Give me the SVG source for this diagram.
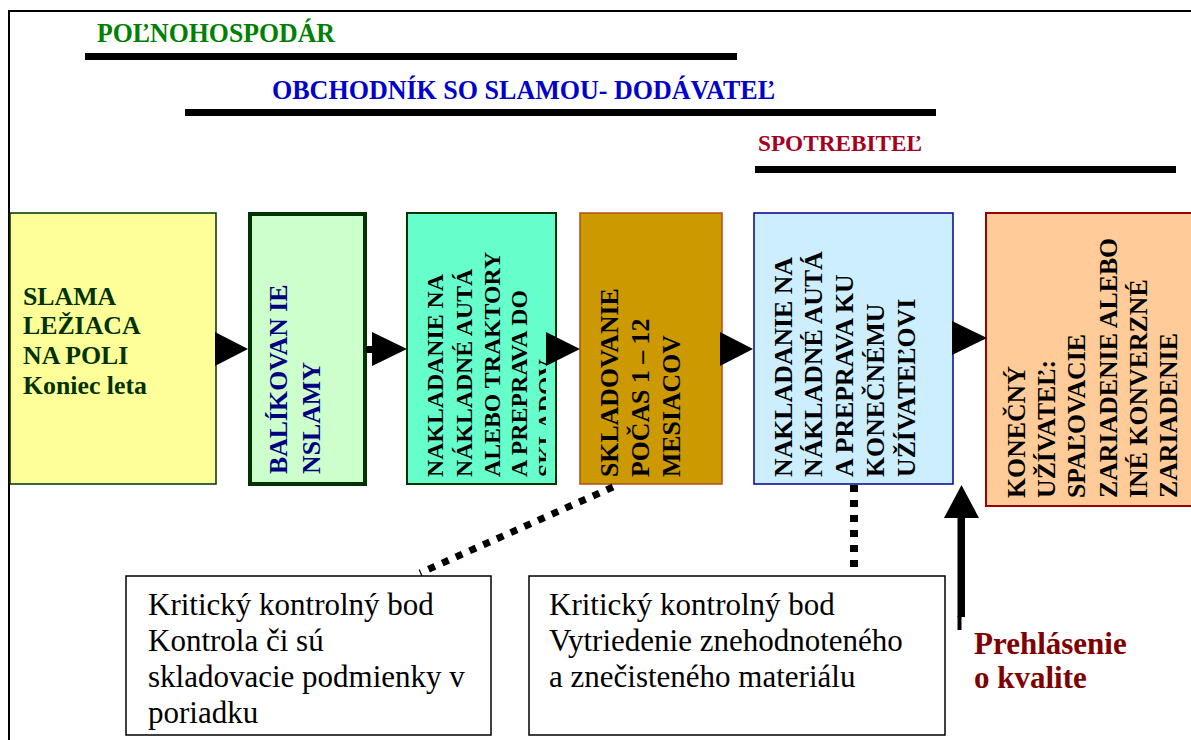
<svg xmlns="http://www.w3.org/2000/svg" width="1191" height="740" viewBox="0 0 1191 740">
  <style>
    text { font-family: "Liberation Serif", "Times New Roman", serif; }
    .hdr { font-weight: bold; }
    .lbl { font-weight: bold; font-size: 25.8px; fill: #000000; }
    .note { font-size: 31px; fill: #000000; }
    .bar { fill: #000000; }
    .frame { fill: none; stroke: #000000; stroke-width: 2; }
    .tri { fill: #000000; }
    .dots { fill: none; stroke: #000000; stroke-width: 7; stroke-dasharray: 7 8; }
  </style>
  <defs>
    <clipPath id="clipTransport">
      <rect x="407" y="213" width="139" height="271"/>
    </clipPath>
  </defs>

  <rect width="1191" height="740" fill="#ffffff"/>

  <!-- page frame: top rule and left rule -->
  <polyline class="frame" points="1191,11 9,11 9,740"/>

  <!-- role bands -->
  <g id="role-farmer">
    <text class="hdr" x="97" y="42" font-size="26.5" fill="#008000" textLength="238" lengthAdjust="spacingAndGlyphs">POĽNOHOSPODÁR</text>
    <rect class="bar" x="85" y="53" width="652" height="7"/>
  </g>
  <g id="role-trader">
    <text class="hdr" x="272" y="99" font-size="26.5" fill="#0000cc" textLength="503" lengthAdjust="spacingAndGlyphs">OBCHODNÍK SO SLAMOU- DODÁVATEĽ</text>
    <rect class="bar" x="185" y="109" width="751" height="7"/>
  </g>
  <g id="role-consumer">
    <text class="hdr" x="758" y="151" font-size="23" fill="#a50021" textLength="164" lengthAdjust="spacingAndGlyphs">SPOTREBITEĽ</text>
    <rect class="bar" x="755" y="166" width="421" height="7"/>
  </g>

  <!-- process steps -->
  <g id="step-field">
    <rect x="10" y="213" width="206" height="271" fill="#ffff99" stroke="#003300" stroke-width="1.5"/>
    <text class="lbl" style="fill:#003300">
      <tspan x="23" y="305">SLAMA</tspan>
      <tspan x="23" y="334">LEŽIACA</tspan>
      <tspan x="23" y="364">NA POLI</tspan>
      <tspan x="23" y="394">Koniec leta</tspan>
    </text>
  </g>

  <g id="step-baling">
    <rect x="250" y="214" width="115" height="270" fill="#ccffcc" stroke="#003300" stroke-width="4"/>
    <text class="lbl" style="fill:#000080" transform="translate(287 474) rotate(-90)">
      <tspan x="0" y="0">BALÍKOVAN IE</tspan>
      <tspan x="0" y="33">NSLAMY</tspan>
    </text>
  </g>

  <g id="step-transport">
    <rect x="407" y="213" width="149" height="271" fill="#66ffcc" stroke="#003300" stroke-width="2"/>
    <g clip-path="url(#clipTransport)">
      <text class="lbl" style="font-size:23.8px" transform="translate(443 477) rotate(-90)">
        <tspan x="0" y="0">NAKLADANIE NA</tspan>
        <tspan x="0" y="28.5">NÁKLADNÉ AUTÁ</tspan>
        <tspan x="0" y="56.5">ALEBO TRAKTORY</tspan>
        <tspan x="0" y="84">A PREPRAVA DO</tspan>
        <tspan x="0" y="110.5">SKLADOV</tspan>
      </text>
    </g>
  </g>

  <g id="step-storage">
    <rect x="580" y="213" width="142" height="271" fill="#cc9900" stroke="#b34d1a" stroke-width="1.5"/>
    <text class="lbl" transform="translate(618 477) rotate(-90)">
      <tspan x="0" y="0">SKLADOVANIE</tspan>
      <tspan x="0" y="31">POČAS 1 – 12</tspan>
      <tspan x="0" y="62">MESIACOV</tspan>
    </text>
  </g>

  <g id="step-delivery">
    <rect x="754" y="213" width="199" height="271" fill="#cceeff" stroke="#000099" stroke-width="1.5"/>
    <text class="lbl" transform="translate(792 477) rotate(-90)">
      <tspan x="0" y="0">NAKLADANIE NA</tspan>
      <tspan x="0" y="30">NÁKLADNÉ AUTÁ</tspan>
      <tspan x="0" y="61">A PREPRAVA KU</tspan>
      <tspan x="0" y="92">KONEČNÉMU</tspan>
      <tspan x="0" y="123">UŽÍVATEĽOVI</tspan>
    </text>
  </g>

  <g id="step-end-user">
    <rect x="986" y="213" width="215" height="293" fill="#ffcc99" stroke="#990000" stroke-width="2"/>
    <text class="lbl" transform="translate(1025 498) rotate(-90)">
      <tspan x="0" y="0">KONEČNÝ</tspan>
      <tspan x="0" y="30">UŽÍVATEĽ:</tspan>
      <tspan x="0" y="60">SPAĽOVACIE</tspan>
      <tspan x="0" y="92">ZARIADENIE ALEBO</tspan>
      <tspan x="0" y="122">INÉ KONVERZNÉ</tspan>
      <tspan x="0" y="152">ZARIADENIE</tspan>
    </text>
  </g>

  <!-- control points -->
  <g id="ccp-storage">
    <rect x="126" y="576" width="365" height="159" fill="#ffffff" stroke="#000000" stroke-width="1.5"/>
    <text class="note">
      <tspan x="148" y="615">Kritický kontrolný bod</tspan>
      <tspan x="148" y="651">Kontrola či sú</tspan>
      <tspan x="148" y="687">skladovacie podmienky v</tspan>
      <tspan x="148" y="723">poriadku</tspan>
    </text>
  </g>

  <g id="ccp-sorting">
    <rect x="529" y="576" width="416" height="159" fill="#ffffff" stroke="#000000" stroke-width="1.5"/>
    <text class="note">
      <tspan x="549" y="615">Kritický kontrolný bod</tspan>
      <tspan x="549" y="651">Vytriedenie znehodnoteného</tspan>
      <tspan x="549" y="687">a znečisteného materiálu</tspan>
    </text>
  </g>

  <g id="quality-declaration">
    <text class="hdr" font-size="31" fill="#800000">
      <tspan x="974" y="654">Prehlásenie</tspan>
      <tspan x="974" y="688">o kvalite</tspan>
    </text>
  </g>

  <!-- connectors -->
  <g id="connectors">
    <polygon class="tri" points="215,332 215,366 248,349"/>
    <rect class="tri" x="366" y="346" width="7" height="7"/>
    <polygon class="tri" points="372,332 372,366 407,349"/>
    <polygon class="tri" points="546,332 546,366 580,349"/>
    <polygon class="tri" points="720,332 720,366 753,349"/>
    <polygon class="tri" points="952,321 952,355 987,338"/>

    <line class="dots" x1="613" y1="487" x2="420" y2="573"/>
    <line class="dots" x1="854" y1="485" x2="854" y2="572" style="stroke-width:8"/>

    <polygon class="tri" points="944,518 979,518 961.5,485"/>
    <rect class="tri" x="957.5" y="517" width="7.5" height="100"/>
    <rect class="tri" x="957.5" y="616" width="4" height="14"/>
  </g>
</svg>
